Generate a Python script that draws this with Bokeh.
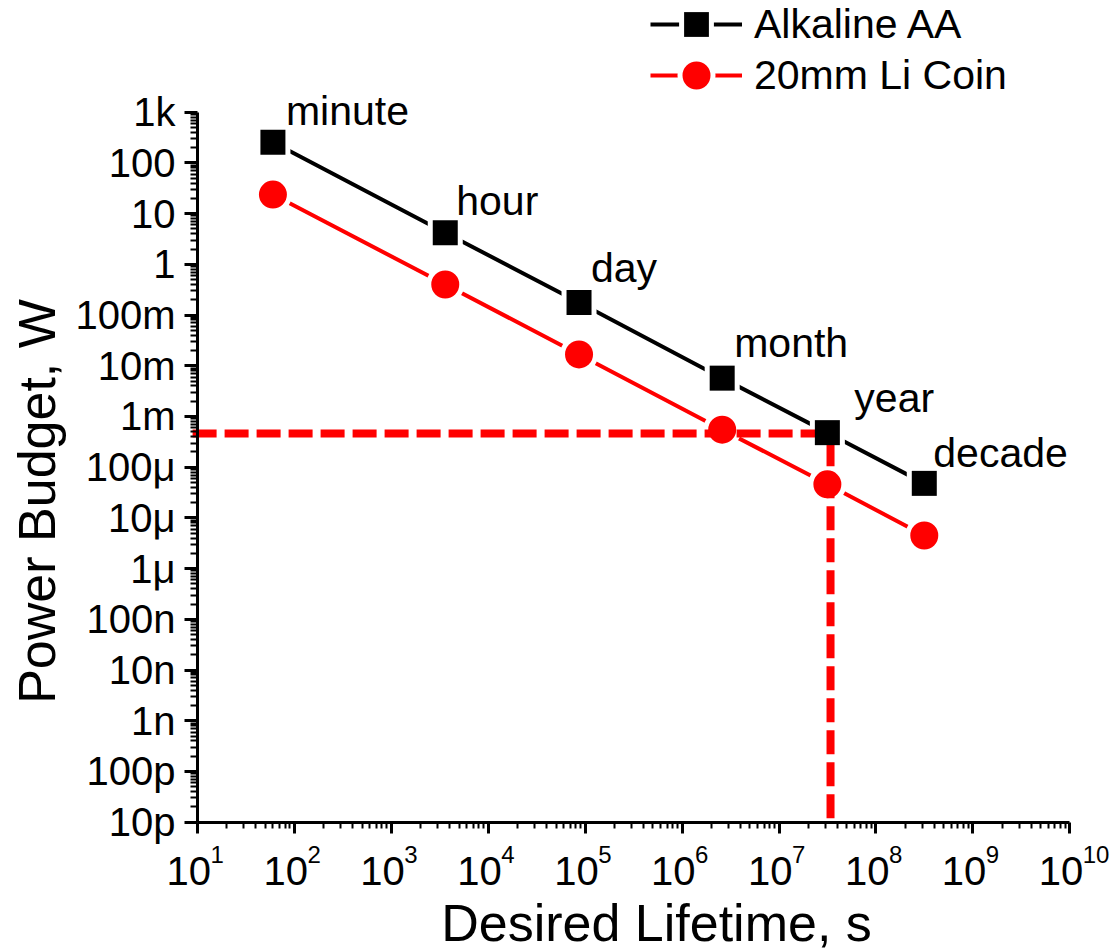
import numpy as np
from bokeh.plotting import figure
from bokeh.models import (ColumnDataSource, LabelSet, Label, Legend, LegendItem,
                          CustomJSTickFormatter, FixedTicker, Range1d)
from bokeh.core.properties import value
from bokeh.embed import file_html
from bokeh.resources import INLINE

# ---------------- data ----------------
lifetime_s = [60, 3600, 86400, 2.592e6, 3.1536e7, 3.1536e8]
lifetime_names = ["minute", "hour", "day", "month", "year", "decade"]
alkaline_aa_w = [256, 4.2, 0.177, 5.7e-3, 4.8e-4, 4.8e-5]
li_coin_w = [23.8, 0.40, 0.0167, 5.5e-4, 4.6e-5, 4.5e-6]
budget_w = 4.6e-4          # red dashed guide (horizontal level)
budget_life_s = 3.4e7      # red dashed guide (vertical position)
guide_start_s = 8.9        # where the horizontal guide begins (just left of the axis)

x_ticks = [10.0 ** k for k in range(1, 11)]
x_tick_base = ["10"] * len(x_ticks)
x_tick_exp = [str(k) for k in range(1, 11)]
y_ticks = [10.0 ** k for k in range(-11, 4)]
y_tick_labels = ["10p", "100p", "1n", "10n", "100n", "1\u03bc", "10\u03bc", "100\u03bc",
                 "1m", "10m", "100m", "1", "10", "100", "1k"]
x_axis_span = (10.0, 1e10)
y_axis_span = (1e-11, 1e3)

# per-label pixel offsets of the period names (style, not data)
name_dx = [13, 11, 12, 12, 27, 9]
name_dy = [17, 18, 20, 21, 21, 16]

FONT = "Liberation Sans"
RED = "#ff0000"

# ---------------- layout geometry (pixels) ----------------
FIG_W, FIG_H = 1110, 950
AX_LEFT_PX, X_PX_PER_DEC = 197.0, 96.92      # pixel of 10^1 and pixels per decade
AX_TOP_PX, Y_PX_PER_DEC = 111.7, 50.714      # pixel of 1k and pixels per decade
lx0 = np.log10(x_axis_span[0])
ly1 = np.log10(y_axis_span[1])
x_range = Range1d(10 ** (lx0 - AX_LEFT_PX / X_PX_PER_DEC),
                  10 ** (lx0 + (FIG_W - AX_LEFT_PX) / X_PX_PER_DEC))
y_range = Range1d(10 ** (ly1 - (FIG_H - AX_TOP_PX) / Y_PX_PER_DEC),
                  10 ** (ly1 + AX_TOP_PX / Y_PX_PER_DEC))

p = figure(width=FIG_W, height=FIG_H, x_axis_type="log", y_axis_type="log",
           x_range=x_range, y_range=y_range, title=None,
           output_backend="svg", toolbar_location=None,
           min_border_left=0, min_border_right=0, min_border_top=0, min_border_bottom=0)
p.outline_line_color = None
p.grid.visible = False
p.background_fill_color = "white"
p.border_fill_color = "white"

# axes, fixed at the corner of the drawn plot area
x_minor = [m * 10.0 ** k for k in range(1, 10) for m in range(2, 10)]
y_minor = [m * 10.0 ** k for k in range(-11, 3) for m in range(2, 10)]
p.xaxis.ticker = FixedTicker(ticks=x_ticks, minor_ticks=x_minor)
p.yaxis.ticker = FixedTicker(ticks=y_ticks, minor_ticks=y_minor)
p.xaxis.fixed_location = y_axis_span[0]
p.yaxis.fixed_location = x_axis_span[0]
p.xaxis.bounds = x_axis_span
p.yaxis.bounds = y_axis_span
for ax in (p.xaxis, p.yaxis):
    ax.axis_line_width = 3
    ax.axis_line_color = "black"
    ax.major_tick_line_width = 3
    ax.minor_tick_line_width = 2
    ax.major_tick_in = 0
    ax.minor_tick_in = 0
    ax.major_tick_line_color = "black"
    ax.minor_tick_line_color = "black"
p.xaxis.major_tick_out = 11
p.xaxis.minor_tick_out = 6
p.yaxis.major_tick_out = 13
p.yaxis.minor_tick_out = 7
p.xaxis.formatter = CustomJSTickFormatter(code="return '';")
p.yaxis.formatter = CustomJSTickFormatter(
    args=dict(labels=y_tick_labels),
    code="return labels[Math.round(Math.log10(tick)) + 11];")
p.yaxis.major_label_text_font = FONT
p.yaxis.major_label_text_font_size = "40px"
p.yaxis.major_label_text_color = "black"
p.yaxis.major_label_standoff = 9

# series
src = ColumnDataSource(dict(x=lifetime_s, aa=alkaline_aa_w, li=li_coin_w))
l_aa = p.line("x", "aa", source=src, line_color="black", line_width=4)
l_li = p.line("x", "li", source=src, line_color=RED, line_width=4)
h_aa = p.scatter("x", "aa", source=src, marker="square", size=25,
                 fill_color="white", line_color="white", line_width=10)
h_li = p.scatter("x", "li", source=src, marker="circle", size=28,
                 fill_color="white", line_color="white", line_width=10)

# red dashed guides
p.line([guide_start_s, budget_life_s], [budget_w, budget_w], line_color=RED, line_width=8,
       line_dash="24 8", line_dash_offset=0)
p.line([budget_life_s, budget_life_s], [y_axis_span[0], budget_w], line_color=RED,
       line_width=8, line_dash="24 8", line_dash_offset=28)

m_aa = p.scatter("x", "aa", source=src, marker="square", size=25,
                 fill_color="black", line_color=None)
m_li = p.scatter("x", "li", source=src, marker="circle", size=28,
                 fill_color=RED, line_color=None)

# period names
nsrc = ColumnDataSource(dict(x=lifetime_s, y=alkaline_aa_w, t=lifetime_names,
                             dx=name_dx, dy=name_dy))
p.add_layout(LabelSet(x="x", y="y", text="t", source=nsrc, x_offset="dx", y_offset="dy",
                      text_font=value(FONT), text_font_size="41px", text_color="black",
                      text_align="left", text_baseline="alphabetic"))

# x tick labels with superscript exponents
tsrc = ColumnDataSource(dict(x=x_ticks, base=x_tick_base, exp=x_tick_exp,
                             y=[y_axis_span[0]] * len(x_ticks)))
p.add_layout(LabelSet(x="x", y="y", text="base", source=tsrc,
                      x_offset=13.5, y_offset=-63, text_font=value(FONT),
                      text_font_size="40px", text_color="black", text_align="right",
                      text_baseline="alphabetic"))
p.add_layout(LabelSet(x="x", y="y", text="exp", source=tsrc,
                      x_offset=13, y_offset=-41, text_font=value(FONT),
                      text_font_size="24px", text_color="black", text_align="left",
                      text_baseline="alphabetic"))

# axis titles (anchored at the middle of the text line)
p.add_layout(Label(x=656, y=FIG_H - 922, x_units="screen", y_units="screen",
                   text="Desired Lifetime, s", text_font=FONT, text_font_size="52px",
                   text_color="black", text_align="center", text_baseline="middle"))
p.add_layout(Label(x=36, y=FIG_H - 501, x_units="screen", y_units="screen", angle=np.pi / 2,
                   text="Power Budget, W", text_font=FONT, text_font_size="52px",
                   text_color="black", text_align="center", text_baseline="middle"))

# legends (one per row, so the two marker sizes can differ)
common = dict(orientation="vertical", glyph_width=92, label_standoff=12,
              label_text_font=FONT, label_text_font_size="41px", label_text_color="black",
              padding=0, margin=0, spacing=0, border_line_color=None,
              background_fill_alpha=0)
leg1 = Legend(items=[LegendItem(label="Alkaline AA", renderers=[l_aa, h_aa, m_aa])],
              location=(650, FIG_H - 24 - 31), glyph_height=62, **common)
leg2 = Legend(items=[LegendItem(label="20mm Li Coin", renderers=[l_li, h_li, m_li])],
              location=(650, FIG_H - 75 - 35), glyph_height=70, **common)
p.add_layout(leg1)
p.add_layout(leg2)

open("out.html", "w").write(file_html(p, INLINE))
